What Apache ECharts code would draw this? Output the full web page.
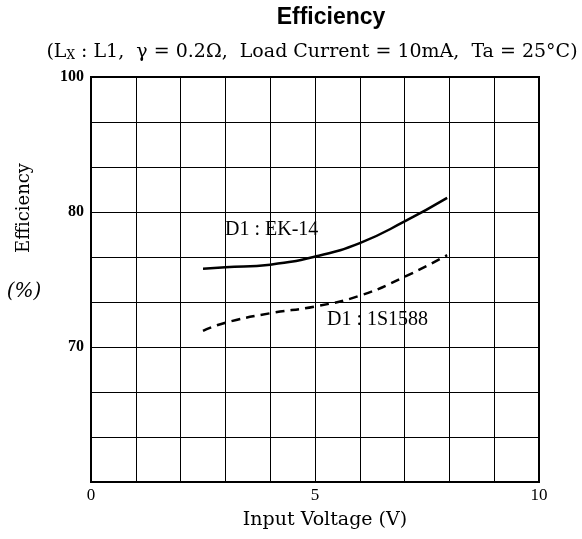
<!DOCTYPE html>
<html>
<head>
<meta charset="utf-8">
<script src="https://cdn.jsdelivr.net/npm/echarts@6/dist/echarts.min.js"></script>
<style>
  html, body { margin: 0; padding: 0; background: #fff; }
  #chart { width: 582px; height: 539px; }
</style>
</head>
<body>
<div id="chart"></div>
<script>
// input voltage (V)
const voltage = [2.5, 3, 4, 5, 6, 7, 7.95];
// efficiency (%)
const effEK14 = [75.8, 75.9, 76.1, 76.7, 77.7, 79.3, 82.1];
const eff1S1588 = [71.2, 71.8, 72.5, 73.0, 73.8, 75.2, 76.8];
// labelled ticks
const xTickLabels = [0, 5, 10];
const yTickLabels = [70, 80, 100];

// the efficiency scale is not linear: 70, 80 and 100 sit on grid lines 3, 6 and 9
function toGrid(e) {
    if (e <= 80) return 3 + (e - 70) * 3 / 10;
    return 6 + (e - 80) * 3 / 20;
}

const serif = '"Liberation Serif", "DejaVu Serif", serif';
const wide = '"DejaVu Serif", serif';
const chart = echarts.init(document.getElementById('chart'));

const option = {
    animation: false,
    backgroundColor: '#fff',
    grid: {
        left: 91, right: 43, top: 77, bottom: 57,
        show: true, borderColor: '#000', borderWidth: 2
    },
    xAxis: {
        type: 'value', min: 0, max: 10, interval: 1,
        axisLine: { show: true, lineStyle: { color: '#000', width: 2 } },
        axisTick: { show: false },
        splitLine: { show: true, lineStyle: { color: '#000', width: 1 } },
        axisLabel: {
            color: '#000', fontFamily: serif, fontSize: 17, margin: 5,
            formatter: v => xTickLabels.includes(v) ? String(v) : ''
        }
    },
    yAxis: {
        type: 'value', min: 0, max: 9, interval: 1,
        axisLine: { show: true, lineStyle: { color: '#000', width: 2 } },
        axisTick: { show: false },
        splitLine: { show: true, lineStyle: { color: '#000', width: 1 } },
        axisLabel: {
            color: '#000', fontFamily: serif, fontSize: 16, fontWeight: 'bold', margin: 7,
            formatter: v => {
                const e = yTickLabels.find(t => Math.abs(toGrid(t) - v) < 1e-6);
                return e !== undefined ? String(e) : '';
            }
        }
    },
    series: [
        {
            name: 'D1 : EK-14',
            type: 'line',
            smooth: true,
            showSymbol: false,
            lineStyle: { color: '#000', width: 2.5 },
            data: voltage.map((v, i) => [v, toGrid(effEK14[i])])
        },
        {
            name: 'D1 : 1S1588',
            type: 'line',
            smooth: true,
            showSymbol: false,
            lineStyle: { color: '#000', width: 2.5, type: [9, 6] },
            data: voltage.map((v, i) => [v, toGrid(eff1S1588[i])])
        }
    ],
    graphic: [
        {
            type: 'text', x: 331, y: 18,
            style: { text: 'Efficiency', fill: '#000', font: 'bold 23px "Liberation Sans", Arial, sans-serif',
                     align: 'center', verticalAlign: 'middle' }
        },
        {
            type: 'text', x: 312, y: 52,
            style: {
                text: '(L{s|X} : L1,  γ = 0.2Ω,  Load Current = 10mA,  Ta = 25°C)',
                fill: '#000', font: '19px ' + wide, align: 'center', verticalAlign: 'middle',
                rich: { s: { fontSize: 12, fontFamily: wide, fill: '#000', padding: [8, 0, 0, 0] } }
            }
        },
        {
            type: 'text', x: 24, y: 208, rotation: Math.PI / 2,
            style: { text: 'Efficiency', fill: '#000', font: '18px ' + wide, align: 'center', verticalAlign: 'middle' }
        },
        {
            type: 'text', x: 24, y: 292,
            style: { text: '(%)', fill: '#000', font: 'italic 20px ' + wide, align: 'center', verticalAlign: 'middle' }
        },
        {
            type: 'text', x: 325, y: 520,
            style: { text: 'Input Voltage (V)', fill: '#000', font: '19px ' + wide, align: 'center', verticalAlign: 'middle' }
        },
        {
            type: 'text', x: 225, y: 230,
            style: { text: 'D1 : EK-14', fill: '#000', font: '20px ' + serif, verticalAlign: 'middle' }
        },
        {
            type: 'text', x: 327, y: 320,
            style: { text: 'D1 : 1S1588', fill: '#000', font: '20px ' + serif, verticalAlign: 'middle' }
        }
    ]
};
chart.setOption(option);
</script>
</body>
</html>
